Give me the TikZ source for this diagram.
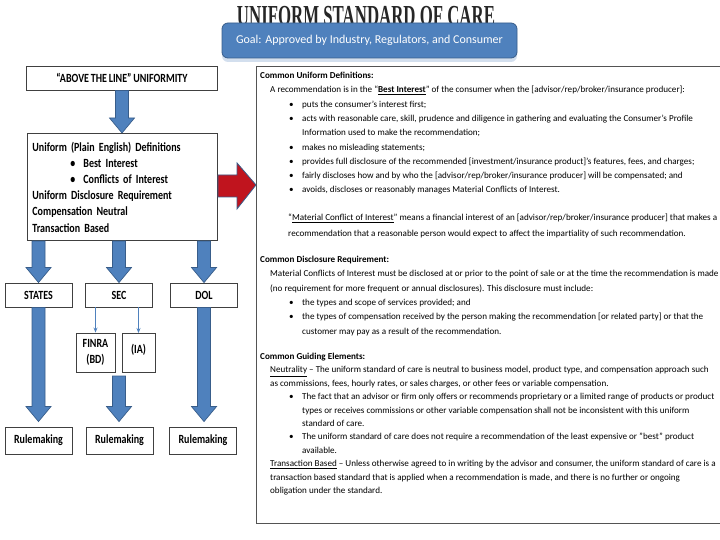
\documentclass[tikz,border=0pt]{standalone}
\usepackage{fontspec}
\setmainfont{Carlito}
\newfontfamily\titlefont{Liberation Serif}
\newfontfamily\narrowfont[FakeStretch=0.8, WordSpace=0.8]{Carlito}
\usetikzlibrary{arrows.meta, positioning, calc, shadows}
\definecolor{boxblue}{HTML}{4F81BD}
\definecolor{edgeblue}{HTML}{385D8A}
\definecolor{arrred}{HTML}{C0141E}
\definecolor{lineg}{HTML}{404040}

% bullet and continuation indents for the right panel
\newcommand{\bitem}{\hspace*{29pt}\makebox[13pt][l]{\textbullet}}
\newcommand{\bcont}{\hspace*{42pt}}

% vertical block arrow from #1 down to #2 (x taken from #1)
\newcommand{\vblock}[2]{%
  \draw[blockarr] let \p1=(#1), \p2=(#2) in
    (\x1-6.5pt,\y1) -- (\x1+6.5pt,\y1) -- (\x1+6.5pt,\y2+15pt) -- (\x1+12.5pt,\y2+15pt)
    -- (\x1,\y2) -- (\x1-12.5pt,\y2+15pt) -- (\x1-6.5pt,\y2+15pt) -- cycle;}

\begin{document}
\begin{tikzpicture}[
  x=1pt, y=-1pt,
  plainbox/.style={
    draw=lineg, line width=0.9pt, fill=white,
    font=\narrowfont\bfseries\fontsize{12.5}{16.5}\selectfont,
    align=center, inner sep=1pt
  },
  goalbox/.style={
    draw=edgeblue, line width=0.8pt, fill=boxblue, rounded corners=6pt, text=white,
    font=\fontsize{12}{14}\selectfont, minimum width=295pt, minimum height=35pt,
    drop shadow={shadow xshift=0pt, shadow yshift=-4pt, fill=boxblue!25, opacity=1}
  },
  blockarr/.style={fill=boxblue, draw=edgeblue, line width=0.7pt},
  redarr/.style={fill=arrred, draw=edgeblue, line width=0.8pt},
  thinarr/.style={-{Stealth[length=5pt, width=4pt]}, line width=0.9pt, boxblue},
  paneltxt/.style={anchor=north west, align=left, inner sep=0pt,
    font=\fontsize{9.1}{14.3}\selectfont},
]
\useasboundingbox (0,0) rectangle (720,540);

% ===== Title and goal =====
\node[font=\titlefont\bfseries\fontsize{29}{30}\selectfont, text=black!85] (title)
  at (366,16) {\scalebox{0.58}[1]{UNIFORM STANDARD OF CARE}};
\node[goalbox] (goal) at (369.5,40.5) {Goal: Approved by Industry, Regulators, and Consumer};

% ===== Left column =====
\node[plainbox, minimum width=191pt, minimum height=24pt] (above) at (122,78)
  {“ABOVE THE LINE” UNIFORMITY};

\node[plainbox, anchor=north west, text width=180pt, minimum height=107pt,
      align=left, inner xsep=5pt, font=\narrowfont\bfseries\fontsize{12.5}{16.2}\selectfont]
  (defs) at (27,133)
  {Uniform (Plain English) Definitions\\
   \hspace*{38pt}\makebox[13pt][l]{\textbullet}Best Interest\\
   \hspace*{38pt}\makebox[13pt][l]{\textbullet}Conflicts of Interest\\
   Uniform Disclosure Requirement\\
   Compensation Neutral\\
   Transaction Based};

% agencies
\foreach \n/\t/\x in {states/STATES/38.5, sec/SEC/119, dol/DOL/204}{
  \node[plainbox, minimum width=67pt, minimum height=24pt] (\n) at (\x,295) {\t};
}
\node[plainbox, minimum width=39pt, minimum height=39pt] (finra) at (95.5,352.5) {FINRA\\(BD)};
\node[plainbox, minimum width=33pt, minimum height=39pt, anchor=north] (ia) at (138.5,333) {\raisebox{8pt}{(IA)}};

% rulemaking boxes
\foreach \n/\x in {1/38.5, 2/119.5, 3/203}{
  \node[plainbox, minimum width=67pt, minimum height=27pt] (rm\n) at (\x,440.5) {Rulemaking};
}
\coordinate (split) at (119,376);

% arrows
\vblock{above.south}{defs.north}
\vblock{defs.south -| states}{states.north}
\vblock{defs.south -| sec}{sec.north}
\vblock{defs.south -| dol}{dol.north}
\vblock{states.south}{$(rm1.north)+(0,-5)$}
\vblock{split}{$(rm2.north)+(0,-5)$}
\vblock{dol.south}{$(rm3.north)+(0,-5)$}
\draw[thinarr] (sec.south -| finra) -- (finra.north);
\draw[thinarr] (sec.south -| ia) -- (ia.north);

% ===== Right panel =====
\node[draw=lineg!90, line width=1.1pt, anchor=north west, minimum width=470pt,
      minimum height=457pt, inner sep=0pt] (panel) at (256,66) {};

% red arrow into the panel
\draw[redarr] let \p1=(defs.east), \p2=(panel.west) in
  (\x1,\y1+12pt) -- (\x2-19pt,\y1+12pt) -- (\x2-19pt,\y1+24pt) -- (\x2,\y1+2pt)
  -- (\x2-19pt,\y1-22pt) -- (\x2-19pt,\y1-10pt) -- (\x1,\y1-10pt) -- cycle;

\node[paneltxt] (cud) at (260,72)
  {\textbf{Common Uniform Definitions:}\\
   \hspace*{10pt}A recommendation is in the “\textbf{\underline{Best Interest}}” of the consumer when the [advisor/rep/broker/insurance producer]:\\
   \bitem puts the consumer’s interest first;\\
   \bitem acts with reasonable care, skill, prudence and diligence in gathering and evaluating the Consumer’s Profile\\
   \bcont Information used to make the recommendation;\\
   \bitem makes no misleading statements;\\
   \bitem provides full disclosure of the recommended [investment/insurance product]’s features, fees, and charges;\\
   \bitem fairly discloses how and by who the [advisor/rep/broker/insurance producer] will be compensated; and\\
   \bitem avoids, discloses or reasonably manages Material Conflicts of Interest.};

\node[paneltxt, font=\fontsize{9.1}{16}\selectfont] (mci) at (260,214)
  {\hspace*{28pt}“\underline{Material Conflict of Interest}” means a financial interest of an [advisor/rep/broker/insurance producer] that makes a\\
   \hspace*{28pt}recommendation that a reasonable person would expect to affect the impartiality of such recommendation.};

\node[paneltxt] (cdr) at (260,256)
  {\textbf{Common Disclosure Requirement:}\\
   \hspace*{10pt}Material Conflicts of Interest must be disclosed at or prior to the point of sale or at the time the recommendation is made\\
   \hspace*{10pt}(no requirement for more frequent or annual disclosures). This disclosure must include:\\
   \bitem the types and scope of services provided; and\\
   \bitem the types of compensation received by the person making the recommendation [or related party] or that the\\
   \bcont customer may pay as a result of the recommendation.};

\node[paneltxt, font=\fontsize{9.1}{13.4}\selectfont] (cge) at (260,353)
  {\textbf{Common Guiding Elements:}\\
   \hspace*{10pt}\underline{Neutrality} -- The uniform standard of care is neutral to business model, product type, and compensation approach such\\
   \hspace*{10pt}as commissions, fees, hourly rates, or sales charges, or other fees or variable compensation.\\
   \bitem The fact that an advisor or firm only offers or recommends proprietary or a limited range of products or product\\
   \bcont types or receives commissions or other variable compensation shall not be inconsistent with this uniform\\
   \bcont standard of care.\\
   \bitem The uniform standard of care does not require a recommendation of the least expensive or "best" product\\
   \bcont available.\\
   \hspace*{10pt}\underline{Transaction Based} -- Unless otherwise agreed to in writing by the advisor and consumer, the uniform standard of care is a\\
   \hspace*{10pt}transaction based standard that is applied when a recommendation is made, and there is no further or ongoing\\
   \hspace*{10pt}obligation under the standard.};

\end{tikzpicture}
\end{document}
